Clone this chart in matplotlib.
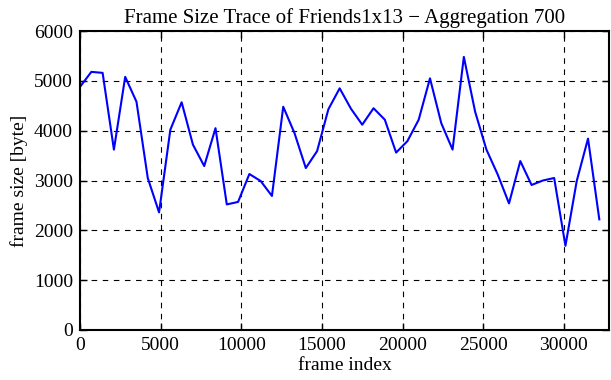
import matplotlib
matplotlib.use("Agg")
import matplotlib.pyplot as plt

# frame index of each aggregated sample (aggregation 700)
frame_index = [i * 700 for i in range(47)]
frame_size = [
    4880, 5180, 5160, 3620, 5080, 4580, 3050, 2360, 4020, 4570,
    3720, 3290, 4050, 2520, 2570, 3130, 2990, 2690, 4480, 3950,
    3250, 3590, 4430, 4850, 4440, 4120, 4450, 4220, 3560, 3790,
    4220, 5050, 4150, 3620, 5480, 4380, 3620, 3120, 2540, 3390,
    2910, 3000, 3050, 1690, 2990, 3840, 2220,
]
x_ticks = [0, 5000, 10000, 15000, 20000, 25000, 30000]
y_ticks = [0, 1000, 2000, 3000, 4000, 5000, 6000]

plt.rcParams['font.family'] = ['Liberation Serif', 'DejaVu Serif']
plt.rcParams['font.size'] = 14

fig = plt.figure(figsize=(6.11, 3.8), dpi=100)
ax = fig.add_axes([0.131, 0.1316, 0.8657, 0.7868])

ax.plot(frame_index, frame_size, color='#0000ff', linewidth=1.5)

ax.set_xlim(0, 32800)
ax.set_ylim(0, 6000)
ax.set_xticks(x_ticks)
ax.set_yticks(y_ticks)
ax.grid(True, color='black', linestyle=(0, (5, 5)), linewidth=0.8)
ax.tick_params(direction='in', top=True, right=True, length=5, width=1, pad=5)
for s in ax.spines.values():
    s.set_linewidth(1.5)

ax.set_xlabel('frame index', labelpad=2)
ax.set_ylabel('frame size [byte]', labelpad=4)
ax.set_title('Frame Size Trace of Friends1x13 \u2212 Aggregation 700', fontsize=15, pad=6)

fig.savefig('out.png', dpi=100)
